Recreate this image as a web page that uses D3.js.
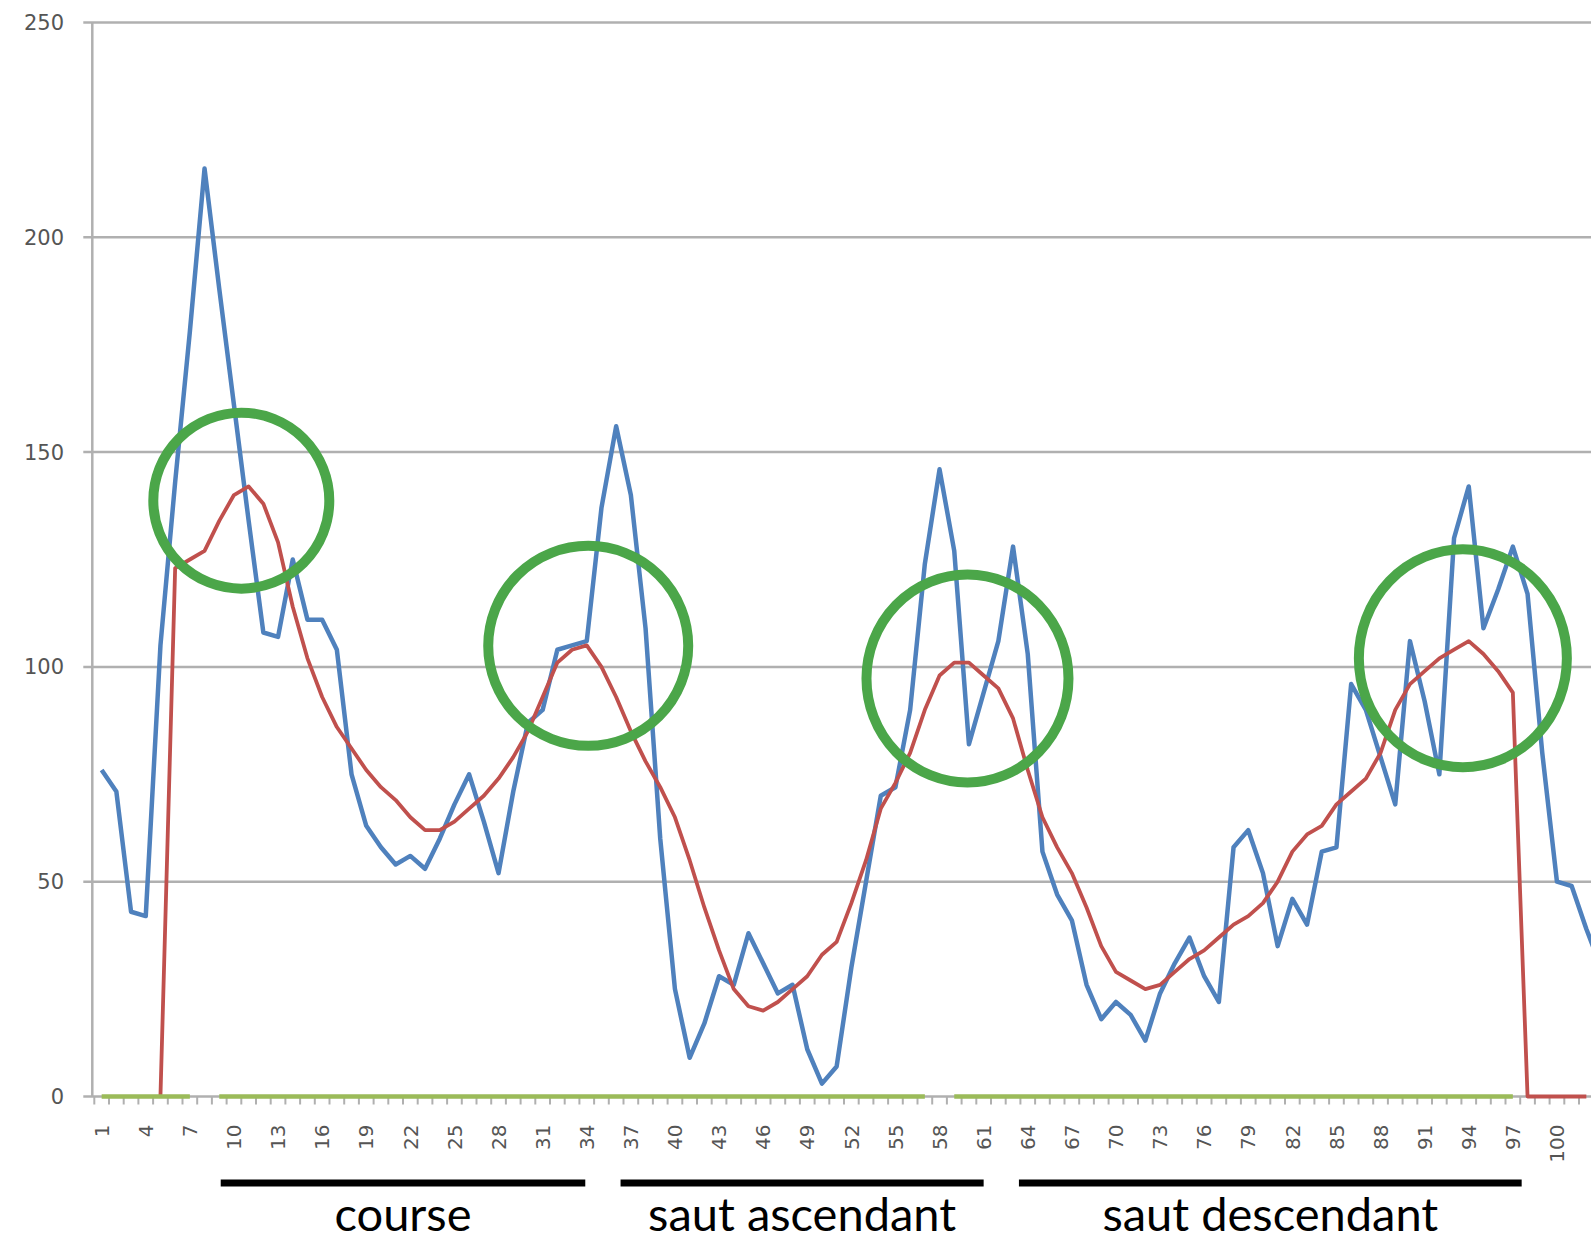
<html>
<head>
<title>course / saut</title>
<script type="text/javascript" src="https://cdn.jsdelivr.net/npm/d3@7/dist/d3.min.js"></script>
<style>
  * { margin: 0; padding: 0; }
  body { background: #ffffff; }
  #chart { position: relative; width: 1591px; height: 1242px; overflow: hidden; }
</style>
</head>
<body>
<div id="chart"></div>
<script type="text/javascript">
// categories 1..103 (the chart is cut off on the right)
var categories = d3.range(1, 104);

var yTicks = [0, 50, 100, 150, 200, 250];
var xTickLabels = d3.range(1, 101, 3);

// blue series (raw signal)
var blueValues = [
  76, 71, 43, 42, 105, 143, 178, 216, 188, 161,
  134, 108, 107, 125, 111, 111, 104, 75, 63, 58,
  54, 56, 53, 60, 68, 75, 64, 52, 71, 87,
  90, 104, 105, 106, 137, 156, 140, 109, 60, 25,
  9, 17, 28, 26, 38, 31, 24, 26, 11, 3,
  7, 30, 50, 70, 72, 90, 124, 146, 127, 82,
  94, 106, 128, 103, 57, 47, 41, 26, 18, 22,
  19, 13, 24, 31, 37, 28, 22, 58, 62, 52,
  35, 46, 40, 57, 58, 96, 90, 79, 68, 106,
  92, 75, 130, 142, 109, 118, 128, 117, 80, 50,
  49, 39, 30
];

// red series (smoothed)
var redValues = [
  null, null, null, null, 0, 123, 125, 127, 134, 140,
  142, 138, 129, 114, 102, 93, 86, 81, 76, 72,
  69, 65, 62, 62, 64, 67, 70, 74, 79, 85,
  93, 101, 104, 105, 100, 93, 85, 78, 72, 65,
  55, 44, 34, 25, 21, 20, 22, 25, 28, 33,
  36, 45, 55, 67, 73, 80, 90, 98, 101, 101,
  98, 95, 88, 76, 65, 58, 52, 44, 35, 29,
  27, 25, 26, 29, 32, 34, 37, 40, 42, 45,
  50, 57, 61, 63, 68, 71, 74, 80, 90, 96,
  99, 102, 104, 106, 103, 99, 94, 0, 0, 0,
  0, 0, null
];

// third series, flat on zero with a few gaps
var greenValues = categories.map(function(c) {
  if (c === 8 || c === 58 || c > 97) return null;
  return 0;
});

// annotated peaks: centre as [category, value]
var peakCategories = [10.5, 34.1, 59.9, 93.6];
var peakValues = [138.7, 104.9, 97.3, 102];

// phases under the axis
var phaseLabels = ['course', 'saut ascendant', 'saut descendant'];
var phaseFrom = [9.1, 36.3, 63.4];
var phaseTo = [33.9, 61.0, 97.6];

(function() {
  var W = 1591, H = 1242;
  var step = 14.7;
  var left = 94.3;

  var svg = d3.select('#chart').append('svg')
      .attr('width', W)
      .attr('height', H);

  svg.append('rect').attr('width', W).attr('height', H).attr('fill', '#ffffff');

  var x = d3.scaleBand()
      .domain(categories)
      .range([left, left + categories.length * step])
      .padding(0);
  var y = d3.scaleLinear().domain([0, 250]).range([1096.5, 22.5]);

  // fractional category -> pixel
  var xPos = function(c) {
    return x(1) + x.bandwidth() / 2 + (c - 1) * x.step();
  };
  var axisX = left - 2;

  // gridlines + y ticks
  svg.append('g').selectAll('line')
      .data(yTicks)
    .enter().append('line')
      .attr('x1', axisX - 9).attr('x2', W)
      .attr('y1', function(d) { return y(d); })
      .attr('y2', function(d) { return y(d); })
      .attr('stroke', '#b0b0b0')
      .attr('stroke-width', 2.5);

  svg.append('g').selectAll('text')
      .data(yTicks)
    .enter().append('text')
      .attr('x', 64)
      .attr('y', function(d) { return y(d); })
      .attr('dy', '0.36em')
      .attr('text-anchor', 'end')
      .attr('font-family', 'DejaVu Sans')
      .attr('font-size', 21)
      .attr('fill', '#555')
      .text(function(d) { return d; });

  // y axis line
  svg.append('line')
      .attr('x1', axisX).attr('x2', axisX)
      .attr('y1', y(250)).attr('y2', y(0))
      .attr('stroke', '#b0b0b0')
      .attr('stroke-width', 2.5);

  // x axis labels every 3 categories
  var xAxis = d3.axisBottom(x)
      .tickValues(xTickLabels)
      .tickSize(0)
      .tickFormat(function(d) { return d; });
  var gx = svg.append('g')
      .attr('transform', 'translate(0,' + y(0) + ')')
      .call(xAxis);
  gx.select('.domain').remove();
  gx.selectAll('text')
      .attr('transform', 'rotate(-90)')
      .attr('x', -28)
      .attr('y', 0)
      .attr('dy', '0.36em')
      .attr('text-anchor', 'end')
      .attr('font-family', 'DejaVu Sans')
      .attr('font-size', 20)
      .attr('fill', '#555');

  // small tick marks at band edges
  svg.append('g').selectAll('line')
      .data(categories.concat([categories.length + 1]))
    .enter().append('line')
      .attr('x1', function(d) { return left + (d - 1) * x.step(); })
      .attr('x2', function(d) { return left + (d - 1) * x.step(); })
      .attr('y1', y(0))
      .attr('y2', y(0) + 8)
      .attr('stroke', '#b0b0b0')
      .attr('stroke-width', 2);

  var lineFor = function(values) {
    return d3.line()
        .defined(function(d) { return d != null; })
        .x(function(d, i) { return x(categories[i]) + x.bandwidth() / 2; })
        .y(function(d) { return y(d); })(values);
  };

  svg.append('path')
      .attr('d', lineFor(blueValues))
      .attr('fill', 'none')
      .attr('stroke', '#4f81bd')
      .attr('stroke-width', 4.5)
      .attr('stroke-linejoin', 'round');

  svg.append('path')
      .attr('d', lineFor(redValues))
      .attr('fill', 'none')
      .attr('stroke', '#c0504d')
      .attr('stroke-width', 3.8)
      .attr('stroke-linejoin', 'round');

  svg.append('path')
      .attr('d', lineFor(greenValues))
      .attr('fill', 'none')
      .attr('stroke', '#9bbb59')
      .attr('stroke-width', 4.5);

  // green circles round the peaks
  var radii = [[88, 88], [100, 100], [101, 104], [104, 109]];
  svg.append('g').selectAll('ellipse')
      .data(peakCategories)
    .enter().append('ellipse')
      .attr('cx', function(d) { return xPos(d); })
      .attr('cy', function(d, i) { return y(peakValues[i]); })
      .attr('rx', function(d, i) { return radii[i][0]; })
      .attr('ry', function(d, i) { return radii[i][1]; })
      .attr('fill', 'none')
      .attr('stroke', '#4ba649')
      .attr('stroke-width', 10);

  // phase bars and labels
  var phases = svg.append('g');
  phases.selectAll('line')
      .data(phaseLabels)
    .enter().append('line')
      .attr('x1', function(d, i) { return xPos(phaseFrom[i]); })
      .attr('x2', function(d, i) { return xPos(phaseTo[i]); })
      .attr('y1', 1183)
      .attr('y2', 1183)
      .attr('stroke', '#000')
      .attr('stroke-width', 7);

  phases.selectAll('text')
      .data(phaseLabels)
    .enter().append('text')
      .attr('x', function(d, i) { return (xPos(phaseFrom[i]) + xPos(phaseTo[i])) / 2; })
      .attr('y', 1231)
      .attr('text-anchor', 'middle')
      .attr('font-family', 'Lato')
      .attr('font-size', 47)
      .attr('fill', '#000')
      .text(function(d) { return d; });
})();
</script>
</body>
</html>
